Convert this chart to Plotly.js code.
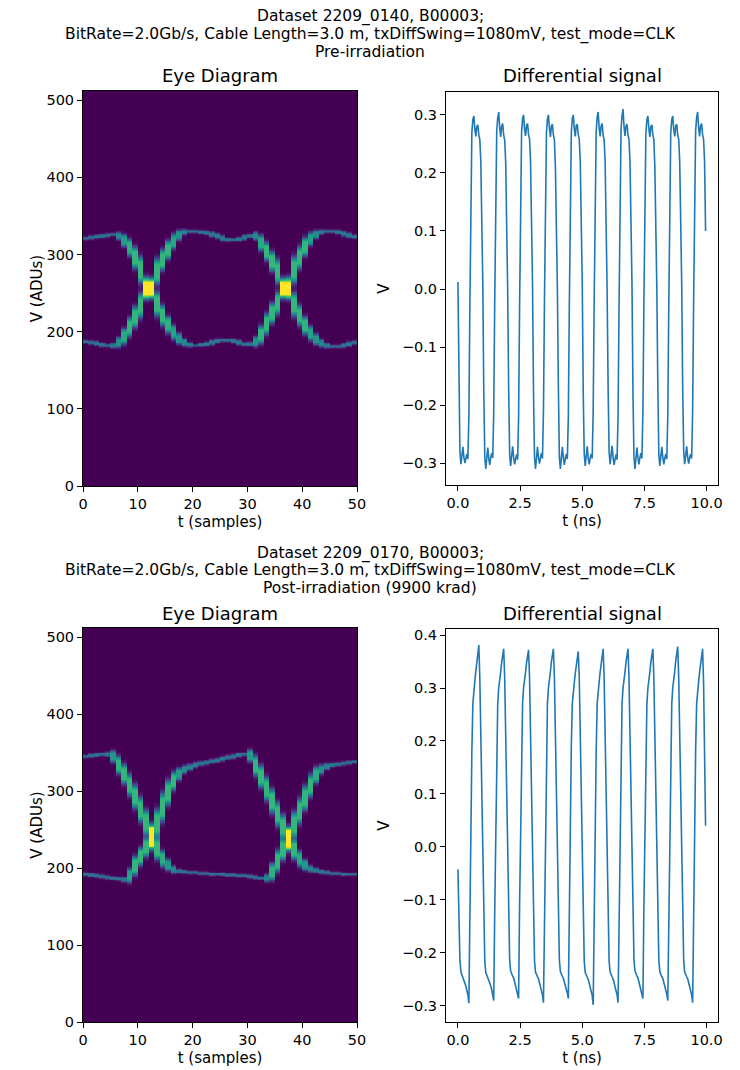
<!DOCTYPE html>
<html>
<head>
<meta charset="utf-8">
<script src="https://cdn.plot.ly/plotly-3.0.1.min.js"></script>
<style>html,body{margin:0;padding:0;background:#fff;}#chart{width:740px;height:1070px;}</style>
</head>
<body>
<div id="chart"></div>
<script>
// ---------------- DATA ----------------
// Eye diagram traces (ADU value per sample column 0..49)
const eyePreA  = [321,322,323,324,325,326,324,318,309,296,280,259,254,236,221,209,199,191,186,183,182,183,184,186,188,189,189,188,186,184,184,187,196,210,224,237,254,259,280,296,310,320,326,329,330,330,329,327,325,323];
const eyePreB  = [187,186,185,183,182,182,186,194,206,219,234,253,258,278,293,306,317,325,329,330,330,329,328,326,324,321,319,319,320,322,324,324,315,304,291,278,258,253,235,221,208,198,190,185,182,181,181,182,184,186];
const eyePostA = [345,346,347,348,348,345,334,322,308,293,276,259,241,225,212,204,198,196,195,194,194,193,193,192,192,192,191,191,190,190,189,188,187,187,195,209,224,238,256,274,291,307,321,328,332,334,335,336,337,338];
const eyePostB = [192,191,190,189,188,187,186,185,190,203,215,227,240,258,279,298,313,322,328,331,334,336,337,339,340,342,344,345,347,348,346,333,319,303,287,270,254,238,224,212,204,199,197,195,194,193,193,192,192,192];

// Differential signal (V), sampled every 0.04 ns starting at t = 0 ns
const diffT0 = 0, diffDt = 0.04;
const diffPre = [
 0.012,-0.17,-0.28,-0.302,-0.285,-0.272,-0.29,-0.300,-0.292,-0.284,-0.293,-0.22,-0.03,0.16,0.27,0.292,0.298,0.276,0.263,0.280,0.283,0.266,0.258,0.22,0.13,
 0.01,-0.18,-0.29,-0.31,-0.288,-0.273,-0.292,-0.303,-0.29,-0.283,-0.291,-0.21,-0.02,0.17,0.272,0.295,0.305,0.278,0.262,0.281,0.285,0.265,0.257,0.22,0.12,
 0.00,-0.17,-0.285,-0.305,-0.284,-0.271,-0.29,-0.302,-0.293,-0.285,-0.294,-0.22,-0.03,0.16,0.27,0.294,0.300,0.275,0.264,0.282,0.285,0.266,0.259,0.22,0.13,
 0.01,-0.18,-0.29,-0.31,-0.287,-0.272,-0.291,-0.301,-0.29,-0.283,-0.292,-0.21,-0.02,0.17,0.27,0.293,0.300,0.277,0.262,0.281,0.284,0.265,0.257,0.21,0.12,
 0.00,-0.17,-0.29,-0.31,-0.286,-0.272,-0.29,-0.303,-0.292,-0.284,-0.293,-0.22,-0.03,0.16,0.27,0.294,0.300,0.276,0.263,0.282,0.284,0.266,0.258,0.22,0.13,
 0.01,-0.18,-0.285,-0.305,-0.285,-0.271,-0.292,-0.302,-0.291,-0.284,-0.292,-0.21,-0.02,0.17,0.272,0.296,0.305,0.277,0.263,0.281,0.285,0.265,0.257,0.22,0.12,
 0.00,-0.17,-0.28,-0.302,-0.284,-0.27,-0.29,-0.303,-0.293,-0.285,-0.294,-0.22,-0.03,0.16,0.275,0.298,0.310,0.28,0.264,0.281,0.284,0.265,0.258,0.22,0.13,
 0.01,-0.18,-0.29,-0.31,-0.287,-0.273,-0.291,-0.302,-0.29,-0.283,-0.292,-0.21,-0.02,0.17,0.27,0.292,0.298,0.276,0.262,0.28,0.283,0.266,0.257,0.21,0.12,
 0.00,-0.17,-0.285,-0.305,-0.285,-0.272,-0.29,-0.302,-0.292,-0.284,-0.293,-0.22,-0.03,0.16,0.27,0.292,0.298,0.275,0.263,0.281,0.284,0.265,0.258,0.22,0.13,
 0.01,-0.17,-0.28,-0.302,-0.285,-0.271,-0.29,-0.301,-0.291,-0.284,-0.292,-0.21,-0.02,0.17,0.272,0.296,0.305,0.278,0.263,0.282,0.285,0.266,0.258,0.22,0.10
];
const diffPost = [
 -0.042,-0.16,-0.214,-0.236,-0.241,-0.245,-0.249,-0.256,-0.263,-0.271,-0.279,-0.295,-0.12,0.04,0.18,0.27,0.30,0.313,0.332,0.352,0.368,0.381,0.32,0.20,0.08,
 -0.03,-0.16,-0.216,-0.237,-0.242,-0.246,-0.25,-0.256,-0.262,-0.27,-0.278,-0.290,-0.12,0.04,0.18,0.27,0.30,0.311,0.33,0.349,0.364,0.374,0.32,0.20,0.08,
 -0.03,-0.15,-0.212,-0.234,-0.24,-0.244,-0.247,-0.254,-0.26,-0.268,-0.276,-0.286,-0.11,0.05,0.19,0.27,0.30,0.311,0.33,0.348,0.362,0.372,0.32,0.20,0.08,
 -0.03,-0.16,-0.215,-0.236,-0.242,-0.245,-0.249,-0.256,-0.263,-0.27,-0.279,-0.294,-0.12,0.04,0.18,0.27,0.30,0.312,0.331,0.35,0.364,0.374,0.32,0.20,0.08,
 -0.03,-0.15,-0.213,-0.235,-0.241,-0.244,-0.248,-0.254,-0.261,-0.268,-0.276,-0.286,-0.11,0.05,0.19,0.27,0.30,0.31,0.328,0.346,0.36,0.369,0.32,0.20,0.08,
 -0.03,-0.16,-0.216,-0.237,-0.243,-0.246,-0.25,-0.257,-0.264,-0.272,-0.28,-0.298,-0.12,0.04,0.18,0.27,0.30,0.312,0.33,0.349,0.364,0.374,0.32,0.20,0.08,
 -0.03,-0.16,-0.215,-0.236,-0.242,-0.245,-0.249,-0.256,-0.263,-0.27,-0.279,-0.294,-0.12,0.04,0.18,0.27,0.30,0.312,0.33,0.349,0.364,0.374,0.32,0.20,0.08,
 -0.03,-0.15,-0.212,-0.234,-0.24,-0.244,-0.247,-0.254,-0.26,-0.268,-0.276,-0.286,-0.11,0.05,0.19,0.27,0.30,0.312,0.33,0.349,0.364,0.374,0.32,0.20,0.08,
 -0.03,-0.16,-0.214,-0.235,-0.241,-0.245,-0.248,-0.255,-0.262,-0.27,-0.278,-0.290,-0.12,0.04,0.18,0.27,0.30,0.313,0.332,0.351,0.367,0.378,0.32,0.20,0.08,
 -0.03,-0.16,-0.215,-0.236,-0.242,-0.245,-0.249,-0.256,-0.263,-0.27,-0.279,-0.294,-0.12,0.04,0.18,0.27,0.30,0.312,0.33,0.349,0.364,0.374,0.31,0.17,0.04
];

const titlesPre  = ["Dataset 2209_0140, B00003;", "BitRate=2.0Gb/s, Cable Length=3.0 m, txDiffSwing=1080mV, test_mode=CLK", "Pre-irradiation"];
const titlesPost = ["Dataset 2209_0170, B00003;", "BitRate=2.0Gb/s, Cable Length=3.0 m, txDiffSwing=1080mV, test_mode=CLK", "Post-irradiation (9900 krad)"];
const eyeTicksX = [0,10,20,30,40,50];
const eyeTicksY = [0,100,200,300,400,500];
const diffTicksX = [0,2.5,5,7.5,10];
const diffTicksYPre = [-0.3,-0.2,-0.1,0,0.1,0.2,0.3];
const diffTicksYPost = [-0.3,-0.2,-0.1,0,0.1,0.2,0.3,0.4];

// ---------------- BUILD ----------------
const NROWS = 512;
function buildEye(A, B) {
  const info = [A, B].map(tr => tr.map((v, i) => {
    const p = tr[Math.max(0, i - 1)], n = tr[Math.min(tr.length - 1, i + 1)];
    const s = Math.abs(n - p) / 2;
    const k = Math.min(1, s / 12);
    return {v: v, hw: 0.45 * s, edge: 1.1 + 0.28 * s, amp: 0.36 + 0.3 * k};
  }));
  const z = [];
  for (let r = 0; r < NROWS; r++) {
    const y = r + 0.5, row = [];
    for (let i = 0; i < A.length; i++) {
      let sum = 0;
      for (const tr of info) {
        const c = tr[i];
        const d = Math.max(0, Math.abs(y - c.v) - c.hw) / c.edge;
        sum += c.amp * Math.exp(-0.5 * d * d);
      }
      row.push(Math.min(1, sum));
    }
    z.push(row);
  }
  return z;
}

const FONT = '"DejaVu Sans", Verdana, sans-serif';
function heat(z, xa, ya) {
  return {type: 'heatmap', z: z, x0: 0.5, dx: 1, y0: 0.5, dy: 1, colorscale: 'Viridis',
          zmin: 0, zmax: 1, showscale: false, zsmooth: false, xaxis: xa, yaxis: ya, hoverinfo: 'skip'};
}
function line(v, xa, ya) {
  return {type: 'scatter', mode: 'lines', x0: diffT0, dx: diffDt, y: v,
          line: {color: '#1f77b4', width: 1.6}, xaxis: xa, yaxis: ya, hoverinfo: 'skip'};
}

const data = [
  heat(buildEye(eyePreA, eyePreB), 'x', 'y'),
  line(diffPre, 'x2', 'y2'),
  heat(buildEye(eyePostA, eyePostB), 'x3', 'y3'),
  line(diffPost, 'x4', 'y4')
];

const W = 740, H = 1070;
const px = v => v / W, py = v => 1 - v / H;
const TICK = 14.5, LAB = 15, SUP = 15.5, TTL = 18;
const axBase = {ticks: 'outside', ticklen: 5, tickwidth: 1, tickcolor: '#000', showline: true, linecolor: '#000',
  linewidth: 1, mirror: true, showgrid: false, zeroline: false, tickfont: {size: TICK, family: FONT, color: '#000'}};
function ax(extra) { return Object.assign({}, axBase, extra); }

const annots = [];
function addLine(text, x, y, size) {
  annots.push({text: text, x: px(x), y: py(y), xref: 'paper', yref: 'paper', showarrow: false,
    xanchor: 'center', yanchor: 'middle', font: {size: size, family: FONT, color: '#000'}});
}
titlesPre.forEach((t, i) => addLine(t, 370, 17 + 17.5 * i, SUP));
titlesPost.forEach((t, i) => addLine(t, 370, 553 + 17.5 * i, SUP));
addLine('Eye Diagram', 220, 76, TTL);
addLine('Differential signal', 582, 76, TTL);
addLine('Eye Diagram', 220, 613, TTL);
addLine('Differential signal', 582, 613, TTL);

const layout = {
  width: W, height: H, margin: {l: 0, r: 0, t: 0, b: 0}, paper_bgcolor: '#fff', plot_bgcolor: '#fff',
  showlegend: false, font: {family: FONT, color: '#000', size: 13},
  xaxis:  ax({domain: [px(83), px(357)], anchor: 'y', range: [0, 50], tickvals: eyeTicksX,
              title: {text: 't (samples)', font: {size: LAB}, standoff: 5}}),
  yaxis:  ax({domain: [py(486), py(91)], anchor: 'x', range: [0, 512], tickvals: eyeTicksY,
              title: {text: 'V (ADUs)', font: {size: LAB}, standoff: 0}}),
  xaxis2: ax({domain: [px(446), px(718)], anchor: 'y2', range: [-0.48, 10.46], tickvals: diffTicksX, tickformat: '.1f',
              title: {text: 't (ns)', font: {size: LAB}, standoff: 5}}),
  yaxis2: ax({domain: [py(485), py(92)], anchor: 'x2', range: [-0.3377, 0.3395], tickvals: diffTicksYPre, tickformat: '.1f',
              title: {text: 'V', font: {size: LAB}, standoff: 8}}),
  xaxis3: ax({domain: [px(83), px(357)], anchor: 'y3', range: [0, 50], tickvals: eyeTicksX,
              title: {text: 't (samples)', font: {size: LAB}, standoff: 5}}),
  yaxis3: ax({domain: [py(1022), py(628)], anchor: 'x3', range: [0, 512], tickvals: eyeTicksY,
              title: {text: 'V (ADUs)', font: {size: LAB}, standoff: 0}}),
  xaxis4: ax({domain: [px(446), px(718)], anchor: 'y4', range: [-0.48, 10.46], tickvals: diffTicksX, tickformat: '.1f',
              title: {text: 't (ns)', font: {size: LAB}, standoff: 5}}),
  yaxis4: ax({domain: [py(1021.7), py(629.3)], anchor: 'x4', range: [-0.3298, 0.4108], tickvals: diffTicksYPost, tickformat: '.1f',
              title: {text: 'V', font: {size: LAB}, standoff: 8}}),
  annotations: annots
};

Plotly.newPlot('chart', data, layout, {staticPlot: true, displayModeBar: false});
</script>
</body>
</html>
